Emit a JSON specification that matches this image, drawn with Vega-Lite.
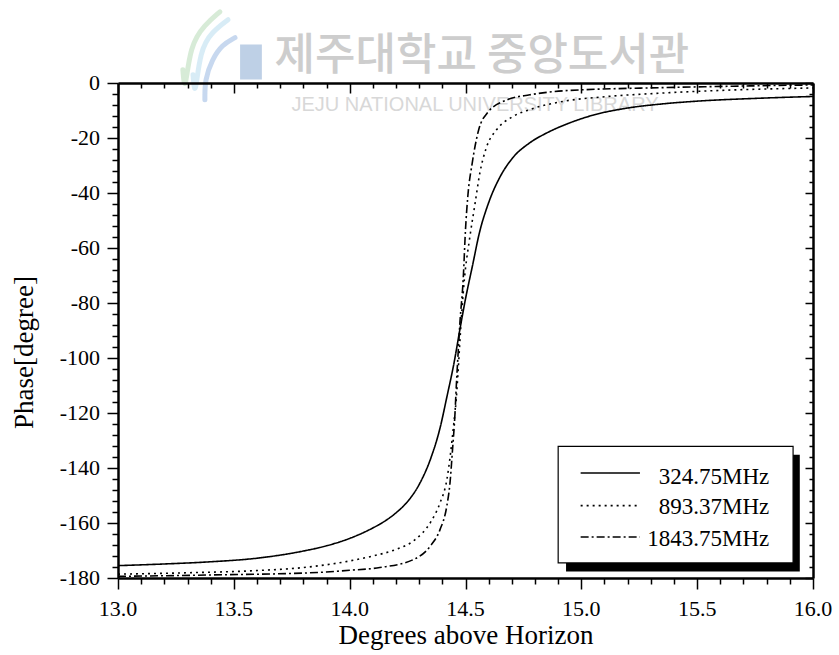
{
  "$schema": "https://vega.github.io/schema/vega-lite/v6.json",
  "width": 695,
  "height": 495,
  "autosize": {"type": "none"},
  "padding": {"left": 118, "top": 83, "right": 26, "bottom": 77},
  "background": "white",
  "config": {"view": {"stroke": null}},
  "datasets": {
    "curves": [
      {"s": "324.75MHz", "x": 13.0, "y": -175.5},
      {"s": "324.75MHz", "x": 13.2, "y": -174.9},
      {"s": "324.75MHz", "x": 13.4, "y": -174.1},
      {"s": "324.75MHz", "x": 13.6, "y": -172.8},
      {"s": "324.75MHz", "x": 13.8, "y": -170.2},
      {"s": "324.75MHz", "x": 13.9, "y": -168.3},
      {"s": "324.75MHz", "x": 14.0, "y": -165.6},
      {"s": "324.75MHz", "x": 14.1, "y": -161.8},
      {"s": "324.75MHz", "x": 14.15, "y": -159.4},
      {"s": "324.75MHz", "x": 14.2, "y": -156.3},
      {"s": "324.75MHz", "x": 14.25, "y": -152.2},
      {"s": "324.75MHz", "x": 14.3, "y": -146.0},
      {"s": "324.75MHz", "x": 14.35, "y": -136.5},
      {"s": "324.75MHz", "x": 14.39, "y": -125.5},
      {"s": "324.75MHz", "x": 14.42, "y": -114.0},
      {"s": "324.75MHz", "x": 14.45, "y": -102.0},
      {"s": "324.75MHz", "x": 14.475, "y": -90.0},
      {"s": "324.75MHz", "x": 14.5, "y": -78.5},
      {"s": "324.75MHz", "x": 14.53, "y": -66.5},
      {"s": "324.75MHz", "x": 14.56, "y": -54.5},
      {"s": "324.75MHz", "x": 14.6, "y": -43.5},
      {"s": "324.75MHz", "x": 14.65, "y": -34.0},
      {"s": "324.75MHz", "x": 14.7, "y": -27.6},
      {"s": "324.75MHz", "x": 14.78, "y": -21.6},
      {"s": "324.75MHz", "x": 14.85, "y": -18.2},
      {"s": "324.75MHz", "x": 14.95, "y": -14.5},
      {"s": "324.75MHz", "x": 15.05, "y": -11.7},
      {"s": "324.75MHz", "x": 15.2, "y": -9.1},
      {"s": "324.75MHz", "x": 15.35, "y": -7.6},
      {"s": "324.75MHz", "x": 15.5, "y": -6.6},
      {"s": "324.75MHz", "x": 15.75, "y": -5.6},
      {"s": "324.75MHz", "x": 16.0, "y": -4.9},

      {"s": "893.37MHz", "x": 13.0, "y": -178.6},
      {"s": "893.37MHz", "x": 13.3, "y": -178.1},
      {"s": "893.37MHz", "x": 13.6, "y": -177.3},
      {"s": "893.37MHz", "x": 13.8, "y": -176.2},
      {"s": "893.37MHz", "x": 14.0, "y": -173.8},
      {"s": "893.37MHz", "x": 14.1, "y": -172.0},
      {"s": "893.37MHz", "x": 14.2, "y": -169.6},
      {"s": "893.37MHz", "x": 14.28, "y": -166.2},
      {"s": "893.37MHz", "x": 14.35, "y": -159.6},
      {"s": "893.37MHz", "x": 14.39, "y": -152.7},
      {"s": "893.37MHz", "x": 14.42, "y": -144.0},
      {"s": "893.37MHz", "x": 14.435, "y": -135.0},
      {"s": "893.37MHz", "x": 14.448, "y": -125.0},
      {"s": "893.37MHz", "x": 14.46, "y": -115.0},
      {"s": "893.37MHz", "x": 14.468, "y": -105.0},
      {"s": "893.37MHz", "x": 14.475, "y": -95.0},
      {"s": "893.37MHz", "x": 14.485, "y": -82.0},
      {"s": "893.37MHz", "x": 14.495, "y": -71.5},
      {"s": "893.37MHz", "x": 14.517, "y": -57.0},
      {"s": "893.37MHz", "x": 14.54, "y": -44.5},
      {"s": "893.37MHz", "x": 14.562, "y": -32.7},
      {"s": "893.37MHz", "x": 14.59, "y": -23.5},
      {"s": "893.37MHz", "x": 14.634, "y": -17.0},
      {"s": "893.37MHz", "x": 14.7, "y": -12.4},
      {"s": "893.37MHz", "x": 14.78, "y": -9.6},
      {"s": "893.37MHz", "x": 14.92, "y": -6.7},
      {"s": "893.37MHz", "x": 15.1, "y": -5.0},
      {"s": "893.37MHz", "x": 15.34, "y": -3.7},
      {"s": "893.37MHz", "x": 15.6, "y": -2.7},
      {"s": "893.37MHz", "x": 16.0, "y": -1.8},

      {"s": "1843.75MHz", "x": 13.0, "y": -179.4},
      {"s": "1843.75MHz", "x": 13.4, "y": -178.9},
      {"s": "1843.75MHz", "x": 13.86, "y": -178.0},
      {"s": "1843.75MHz", "x": 14.0, "y": -177.2},
      {"s": "1843.75MHz", "x": 14.13, "y": -176.2},
      {"s": "1843.75MHz", "x": 14.275, "y": -173.3},
      {"s": "1843.75MHz", "x": 14.347, "y": -168.5},
      {"s": "1843.75MHz", "x": 14.39, "y": -162.4},
      {"s": "1843.75MHz", "x": 14.419, "y": -154.0},
      {"s": "1843.75MHz", "x": 14.433, "y": -145.5},
      {"s": "1843.75MHz", "x": 14.444, "y": -133.3},
      {"s": "1843.75MHz", "x": 14.454, "y": -121.2},
      {"s": "1843.75MHz", "x": 14.461, "y": -109.0},
      {"s": "1843.75MHz", "x": 14.469, "y": -97.0},
      {"s": "1843.75MHz", "x": 14.476, "y": -87.0},
      {"s": "1843.75MHz", "x": 14.49, "y": -71.5},
      {"s": "1843.75MHz", "x": 14.5, "y": -53.3},
      {"s": "1843.75MHz", "x": 14.51, "y": -41.2},
      {"s": "1843.75MHz", "x": 14.529, "y": -29.1},
      {"s": "1843.75MHz", "x": 14.557, "y": -17.0},
      {"s": "1843.75MHz", "x": 14.594, "y": -10.9},
      {"s": "1843.75MHz", "x": 14.68, "y": -6.1},
      {"s": "1843.75MHz", "x": 14.778, "y": -4.3},
      {"s": "1843.75MHz", "x": 14.93, "y": -2.8},
      {"s": "1843.75MHz", "x": 15.34, "y": -1.7},
      {"s": "1843.75MHz", "x": 15.7, "y": -1.1},
      {"s": "1843.75MHz", "x": 16.0, "y": -0.7}
    ],
    "xlabels": [
      {"v": 13.0, "t": "13.0"}, {"v": 13.5, "t": "13.5"}, {"v": 14.0, "t": "14.0"}, {"v": 14.5, "t": "14.5"},
      {"v": 15.0, "t": "15.0"}, {"v": 15.5, "t": "15.5"}, {"v": 16.0, "t": "16.0"}
    ],
    "ylabels": [
      {"v": -180, "t": "-180"}, {"v": -160, "t": "-160"}, {"v": -140, "t": "-140"}, {"v": -120, "t": "-120"},
      {"v": -100, "t": "-100"}, {"v": -80, "t": "-80"}, {"v": -60, "t": "-60"}, {"v": -40, "t": "-40"},
      {"v": -20, "t": "-20"}, {"v": 0, "t": "0"}
    ],
    "legendItems": [
      {"s": "324.75MHz", "x": 14.997, "x2": 15.253, "y": -141.8, "ty": -143.1, "tx": 15.811},
      {"s": "893.37MHz", "x": 14.997, "x2": 15.253, "y": -153.7, "ty": -154.1, "tx": 15.811},
      {"s": "1843.75MHz", "x": 14.997, "x2": 15.253, "y": -165.1, "ty": -165.7, "tx": 15.811}
    ],
    "legendBox": [{"x": 14.9, "x2": 15.914, "y": -132.1, "y2": -174.5}],
    "legendShadow": [{"x": 14.934, "x2": 15.943, "y": -135.2, "y2": -177.6}],
    "watermark": [
      {"t": "제주대학교 중앙도서관", "x": 14.571, "y": 9.4, "kind": "ko"},
      {"t": "JEJU NATIONAL UNIVERSITY LIBRARY", "x": 14.541, "y": -7.9, "kind": "en"}
    ],
    "logo": [{"x": 13.527, "x2": 13.621, "y": 14.0, "y2": 1.3}],
    "emblem": [
      {"arc": "a", "x": 13.289, "y": -4.3}, {"arc": "a", "x": 13.28, "y": 4.8}, {"arc": "a", "x": 13.311, "y": 13.9}, {"arc": "a", "x": 13.375, "y": 21.2}, {"arc": "a", "x": 13.44, "y": 25.9},
      {"arc": "b", "x": 13.332, "y": -6.1}, {"arc": "b", "x": 13.324, "y": 3.0}, {"arc": "b", "x": 13.354, "y": 12.1}, {"arc": "b", "x": 13.406, "y": 18.6}, {"arc": "b", "x": 13.475, "y": 23.0},
      {"arc": "c", "x": 13.375, "y": -6.1}, {"arc": "c", "x": 13.375, "y": 1.2}, {"arc": "c", "x": 13.406, "y": 8.5}, {"arc": "c", "x": 13.449, "y": 13.9}, {"arc": "c", "x": 13.505, "y": 16.5}
    ]
  },
  "layer": [
    {
      "data": {"name": "emblem"},
      "mark": {"type": "line", "strokeWidth": 5, "opacity": 0.35, "interpolate": "basis", "strokeCap": "round"},
      "encoding": {
        "x": {"field": "x", "type": "quantitative", "scale": {"domain": [13, 16], "nice": false, "zero": false}, "axis": null},
        "y": {"field": "y", "type": "quantitative", "scale": {"domain": [-180, 0], "nice": false, "zero": false}, "axis": null},
        "color": {"field": "arc", "type": "nominal", "scale": {"domain": ["a", "b", "c"], "range": ["#8cc68c", "#8fc9e6", "#5f8fd0"]}, "legend": null}
      }
    },
    {
      "data": {"name": "logo"},
      "mark": {"type": "rect", "color": "#b3c8e2", "opacity": 0.85},
      "encoding": {
        "x": {"field": "x", "type": "quantitative", "scale": {"domain": [13, 16], "nice": false, "zero": false}, "axis": null},
        "x2": {"field": "x2"},
        "y": {"field": "y", "type": "quantitative", "scale": {"domain": [-180, 0], "nice": false, "zero": false}, "axis": null},
        "y2": {"field": "y2"}
      }
    },
    {
      "data": {"name": "watermark"},
      "transform": [{"filter": "datum.kind == 'ko'"}],
      "mark": {"type": "text", "font": "Noto Sans CJK KR", "fontSize": 44, "fontWeight": 500, "color": "#cdcdcd", "baseline": "middle", "align": "center"},
      "encoding": {
        "x": {"field": "x", "type": "quantitative", "scale": {"domain": [13, 16], "nice": false, "zero": false}, "axis": null},
        "y": {"field": "y", "type": "quantitative", "scale": {"domain": [-180, 0], "nice": false, "zero": false}, "axis": null},
        "text": {"field": "t"}
      }
    },
    {
      "data": {"name": "watermark"},
      "transform": [{"filter": "datum.kind == 'en'"}],
      "mark": {"type": "text", "font": "Liberation Sans", "fontSize": 20, "color": "#d8d8d8", "baseline": "middle", "align": "center"},
      "encoding": {
        "x": {"field": "x", "type": "quantitative", "scale": {"domain": [13, 16], "nice": false, "zero": false}, "axis": null},
        "y": {"field": "y", "type": "quantitative", "scale": {"domain": [-180, 0], "nice": false, "zero": false}, "axis": null},
        "text": {"field": "t"}
      }
    },
    {
      "data": {"name": "curves"},
      "mark": {"type": "line", "color": "black", "strokeWidth": 1.6, "interpolate": "monotone", "clip": true},
      "encoding": {
        "x": {"field": "x", "type": "quantitative", "scale": {"domain": [13, 16], "nice": false, "zero": false},
          "axis": {"orient": "bottom",
            "values": [13, 13.1, 13.2, 13.3, 13.4, 13.5, 13.6, 13.7, 13.8, 13.9, 14, 14.1, 14.2, 14.3, 14.4, 14.5, 14.6, 14.7, 14.8, 14.9, 15, 15.1, 15.2, 15.3, 15.4, 15.5, 15.6, 15.7, 15.8, 15.9, 16],
            "labels": false,
            "tickSize": {"condition": {"test": "abs(datum.value * 2 - round(datum.value * 2)) < 0.01", "value": 11}, "value": 6},
            "tickWidth": 1.5, "tickColor": "black",
            "domainWidth": 2.5, "domainColor": "black",
            "grid": false, "title": "Degrees above Horizon", "titleFont": "Liberation Serif", "titleFontSize": 27, "titleFontWeight": "normal", "titleColor": "black",
            "titleX": 347.5, "titleY": 65, "titleBaseline": "alphabetic", "titleAlign": "center", "zindex": 1}},
        "y": {"field": "y", "type": "quantitative", "scale": {"domain": [-180, 0], "nice": false, "zero": false},
          "axis": {"orient": "left",
            "values": [-180, -176, -172, -168, -164, -160, -156, -152, -148, -144, -140, -136, -132, -128, -124, -120, -116, -112, -108, -104, -100, -96, -92, -88, -84, -80, -76, -72, -68, -64, -60, -56, -52, -48, -44, -40, -36, -32, -28, -24, -20, -16, -12, -8, -4, 0],
            "labels": false,
            "tickSize": {"condition": {"test": "datum.value % 20 == 0", "value": 11}, "value": 6},
            "tickWidth": 1.5, "tickColor": "black",
            "domainWidth": 2.5, "domainColor": "black",
            "grid": false, "title": "Phase[degree]", "titleFont": "Liberation Serif", "titleFontSize": 27, "titleFontWeight": "normal", "titleColor": "black",
            "titleX": -86, "titleY": 269, "titleAngle": -90, "titleBaseline": "alphabetic", "titleAlign": "center", "zindex": 1}},
        "detail": {"field": "s"},
        "strokeDash": {"field": "s", "type": "nominal", "scale": {"domain": ["324.75MHz", "893.37MHz", "1843.75MHz"], "range": [[1, 0], [2, 4], [8, 3, 2, 3]]}, "legend": null}
      }
    },
    {
      "data": {"name": "legendItems"},
      "mark": {"type": "point", "opacity": 0},
      "encoding": {
        "x": {"field": "x", "type": "quantitative", "scale": {"domain": [13, 16], "nice": false, "zero": false},
          "axis": {"orient": "top",
            "values": [13, 13.1, 13.2, 13.3, 13.4, 13.5, 13.6, 13.7, 13.8, 13.9, 14, 14.1, 14.2, 14.3, 14.4, 14.5, 14.6, 14.7, 14.8, 14.9, 15, 15.1, 15.2, 15.3, 15.4, 15.5, 15.6, 15.7, 15.8, 15.9, 16],
            "tickSize": {"condition": {"test": "abs(datum.value * 2 - round(datum.value * 2)) < 0.01", "value": -10}, "value": -5},
            "tickWidth": 1.5, "tickColor": "black",
            "domainWidth": 2.5, "domainColor": "black", "labels": false, "grid": false, "title": null, "zindex": 1}},
        "y": {"field": "y", "type": "quantitative", "scale": {"domain": [-180, 0], "nice": false, "zero": false},
          "axis": {"orient": "right",
            "values": [-180, -176, -172, -168, -164, -160, -156, -152, -148, -144, -140, -136, -132, -128, -124, -120, -116, -112, -108, -104, -100, -96, -92, -88, -84, -80, -76, -72, -68, -64, -60, -56, -52, -48, -44, -40, -36, -32, -28, -24, -20, -16, -12, -8, -4, 0],
            "tickSize": {"condition": {"test": "datum.value % 20 == 0", "value": -8}, "value": -4},
            "tickWidth": 1.5, "tickColor": "black",
            "domainWidth": 2.5, "domainColor": "black", "labels": false, "grid": false, "title": null, "zindex": 1}}
      }
    },
    {
      "data": {"name": "xlabels"},
      "mark": {"type": "text", "font": "Liberation Serif", "fontSize": 22, "color": "black", "align": "center", "baseline": "alphabetic", "dy": 38},
      "encoding": {
        "x": {"field": "v", "type": "quantitative", "scale": {"domain": [13, 16], "nice": false, "zero": false}, "axis": null},
        "y": {"datum": -180, "type": "quantitative", "scale": {"domain": [-180, 0], "nice": false, "zero": false}, "axis": null},
        "text": {"field": "t"}
      }
    },
    {
      "data": {"name": "ylabels"},
      "mark": {"type": "text", "font": "Liberation Serif", "fontSize": 22, "color": "black", "align": "right", "baseline": "alphabetic", "dx": -18, "dy": 7},
      "encoding": {
        "x": {"datum": 13, "type": "quantitative", "scale": {"domain": [13, 16], "nice": false, "zero": false}, "axis": null},
        "y": {"field": "v", "type": "quantitative", "scale": {"domain": [-180, 0], "nice": false, "zero": false}, "axis": null},
        "text": {"field": "t"}
      }
    },
    {
      "data": {"name": "legendShadow"},
      "mark": {"type": "rect", "color": "black"},
      "encoding": {
        "x": {"field": "x", "type": "quantitative", "scale": {"domain": [13, 16], "nice": false, "zero": false}, "axis": null},
        "x2": {"field": "x2"},
        "y": {"field": "y", "type": "quantitative", "scale": {"domain": [-180, 0], "nice": false, "zero": false}, "axis": null},
        "y2": {"field": "y2"}
      }
    },
    {
      "data": {"name": "legendBox"},
      "mark": {"type": "rect", "fill": "white", "stroke": "black", "strokeWidth": 1.2},
      "encoding": {
        "x": {"field": "x", "type": "quantitative", "scale": {"domain": [13, 16], "nice": false, "zero": false}, "axis": null},
        "x2": {"field": "x2"},
        "y": {"field": "y", "type": "quantitative", "scale": {"domain": [-180, 0], "nice": false, "zero": false}, "axis": null},
        "y2": {"field": "y2"}
      }
    },
    {
      "data": {"name": "legendItems"},
      "mark": {"type": "rule", "color": "black", "strokeWidth": 1.6},
      "encoding": {
        "x": {"field": "x", "type": "quantitative", "scale": {"domain": [13, 16], "nice": false, "zero": false}, "axis": null},
        "x2": {"field": "x2"},
        "y": {"field": "y", "type": "quantitative", "scale": {"domain": [-180, 0], "nice": false, "zero": false}, "axis": null},
        "strokeDash": {"field": "s", "type": "nominal", "scale": {"domain": ["324.75MHz", "893.37MHz", "1843.75MHz"], "range": [[1, 0], [2, 4], [8, 3, 2, 3]]}, "legend": null}
      }
    },
    {
      "data": {"name": "legendItems"},
      "mark": {"type": "text", "font": "Liberation Serif", "fontSize": 23, "color": "black", "align": "right", "baseline": "middle"},
      "encoding": {
        "x": {"field": "tx", "type": "quantitative", "scale": {"domain": [13, 16], "nice": false, "zero": false}, "axis": null},
        "y": {"field": "ty", "type": "quantitative", "scale": {"domain": [-180, 0], "nice": false, "zero": false}, "axis": null},
        "text": {"field": "s"}
      }
    }
  ],
  "resolve": {"axis": {"x": "independent", "y": "independent"}}
}
